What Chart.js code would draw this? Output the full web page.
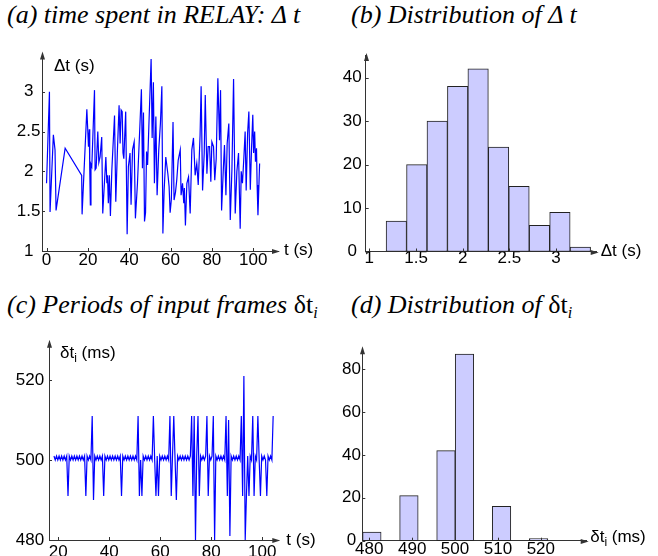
<!DOCTYPE html>
<html lang="en">
<head>
<meta charset="UTF-8">
<title>RELAY timing</title>
<script src="https://cdn.jsdelivr.net/npm/chart.js"></script>
<style>
    body { margin: 0; width: 658px; height: 556px; overflow: hidden; position: relative; background: #fff; }
    canvas { position: absolute; }
    .title {
        position: absolute;
        font-family: "Liberation Serif", "Times New Roman", serif;
        font-style: italic;
        font-size: 26px;
        line-height: 26px;
        white-space: nowrap;
        color: #000;
    }
    .title .sym { font-style: normal; }
    .title sub { font-size: 16px; line-height: 0; vertical-align: -5px; }
</style>
</head>
<body>
    <div class="title" style="left:7px; top:2px">(a) time spent in RELAY: Δ t</div>
    <div class="title" style="left:351px; top:2px">(b) Distribution of Δ t</div>
    <div class="title" style="left:7px; top:292px">(c) Periods of input frames <span class="sym">δt</span><sub>i</sub></div>
    <div class="title" style="left:351px; top:292px">(d) Distribution of <span class="sym">δt</span><sub>i</sub></div>

    <canvas id="chartA" width="330" height="240" style="left:0; top:40px"></canvas>
    <canvas id="chartB" width="328" height="250" style="left:330px; top:30px"></canvas>
    <canvas id="chartC" width="330" height="236" style="left:0; top:320px"></canvas>
    <canvas id="chartD" width="328" height="236" style="left:330px; top:320px"></canvas>

<script>
// (a) time spent in RELAY
const relayTimes = [
    0, 1.4, 1.7, 3.3, 4.1, 4.6, 9.0, 17.0, 17.2, 19.5,
    20.3, 20.7, 20.9, 21.2, 21.5, 21.9, 23.2, 23.5, 24.0, 24.8,
    25.3, 25.9, 26.7, 27.2, 27.8, 28.7, 29.2, 29.5, 29.9, 30.4,
    30.9, 31.6, 32.4, 32.9, 33.5, 34.3, 35.1, 35.6, 36.1, 36.6,
    37.0, 37.4, 38.3, 39.0, 39.6, 40.4, 40.9, 41.6, 42.4, 43.0,
    44.0, 45.0, 45.9, 46.4, 46.9, 47.4, 47.9, 48.4, 48.9, 49.5,
    50.6, 51.1, 51.7, 52.2, 52.9, 53.5, 54.3, 55.1, 55.8, 56.3,
    56.9, 57.7, 58.7, 59.3, 59.8, 60.4, 61.2, 61.7, 62.4, 63.0,
    63.7, 64.7, 65.1, 65.8, 66.4, 66.7, 67.2, 67.9, 68.7, 69.5,
    70.3, 71.1, 71.9, 72.7, 73.4, 74.3, 74.8, 75.5, 76.3, 76.8,
    77.6, 78.2, 78.9, 79.5, 80.0, 80.8, 81.4, 82.1, 82.9, 83.7,
    84.2, 84.7, 85.5, 86.1, 86.8, 87.4, 88.2, 88.9, 89.7, 90.5,
    91.3, 92.1, 92.9, 93.7, 94.2, 94.8, 95.5, 96.1, 96.6, 97.3,
    97.9, 98.6, 99.2, 99.8, 100.2, 100.7, 101.1, 101.6, 101.9, 102.3,
    103.1
];
const relayDelta = [
    1.85, 3.00, 1.49, 2.46, 2.27, 1.51, 2.29, 1.95, 1.46, 2.78,
    2.31, 2.53, 2.04, 1.58, 2.09, 2.06, 3.02, 2.02, 2.04, 2.50,
    2.11, 2.18, 2.43, 1.47, 1.76, 2.18, 1.85, 1.95, 1.60, 1.95,
    1.44, 2.02, 2.44, 2.70, 1.62, 2.27, 2.83, 2.35, 2.77, 2.75,
    2.23, 2.16, 2.75, 1.21, 2.06, 2.23, 1.58, 2.27, 2.37, 1.41,
    1.85, 2.47, 3.03, 2.04, 2.74, 1.37, 1.48, 2.25, 2.08, 2.56,
    3.41, 2.42, 3.12, 1.85, 2.69, 1.70, 2.27, 2.60, 3.07, 1.22,
    1.76, 2.18, 1.97, 1.81, 1.48, 1.65, 2.62, 1.64, 1.74, 1.89,
    2.14, 2.27, 1.70, 1.85, 1.60, 1.79, 1.32, 1.85, 1.93, 1.47,
    2.27, 2.42, 1.95, 2.10, 1.83, 2.46, 3.07, 1.76, 2.23, 2.96,
    1.97, 2.31, 2.31, 1.87, 2.37, 2.31, 1.89, 2.16, 3.17, 2.39,
    3.02, 1.51, 2.00, 2.33, 1.70, 2.35, 2.60, 1.39, 2.02, 3.16,
    1.47, 2.00, 2.23, 1.28, 2.00, 1.85, 2.18, 2.50, 1.76, 2.48,
    2.75, 1.77, 2.29, 2.71, 2.23, 2.50, 2.12, 2.29, 1.83, 1.45,
    2.10
];
const relayTicksX = [0, 20, 40, 60, 80, 100];
const relayTicksY = [1, 1.5, 2, 2.5, 3];

// (b) distribution of delta t
const deltaBinCenters = [1.289, 1.508, 1.727, 1.946, 2.165, 2.384, 2.603, 2.822, 3.041, 3.260];
const deltaBinCounts = [7, 20, 30, 38, 42, 24, 15, 6, 9, 1];
const deltaTicksX = [1, 1.5, 2, 2.5, 3];
const deltaTicksY = [0, 10, 20, 30, 40];

// (c) periods of input frames (ms), first frame at frameStart seconds
const frameStart = 18.3;
const framePeriods = [
    501, 500, 501, 500, 501, 500, 501, 500, 501, 500,
    501, 491, 501, 500, 501, 500, 501, 500, 501, 500,
    501, 500, 501, 500, 501, 491, 501, 500, 501, 500,
    511, 490, 501, 500, 501, 500, 501, 500, 501, 491,
    501, 500, 501, 500, 501, 500, 501, 500, 501, 500,
    501, 500, 501, 491, 501, 500, 501, 500, 501, 500,
    501, 500, 501, 500, 501, 500, 511, 491, 500, 491,
    501, 500, 501, 500, 501, 500, 501, 500, 511, 500,
    491, 501, 491, 501, 500, 501, 500, 501, 500, 501,
    500, 511, 491, 501, 511, 500, 490, 501, 500, 501,
    500, 501, 500, 501, 500, 501, 500, 501, 511, 491,
    511, 480, 501, 511, 491, 501, 500, 501, 500, 501,
    511, 491, 501, 500, 501, 511, 480, 501, 500, 501,
    500, 501, 500, 501, 500, 511, 491, 510, 481, 501,
    500, 501, 500, 501, 500, 501, 500, 511, 491, 521,
    480, 491, 501, 491, 501, 500, 511, 491, 501, 500,
    511, 500, 491, 501, 500, 501, 500, 491, 501, 500,
    501, 500, 511
];
const frameTicksX = [20, 40, 60, 80, 100];
const frameTicksY = [480, 500, 520];

// (d) distribution of frame periods (empty bins left out)
const periodBinCenters = [480.6, 489.24, 497.88, 502.2, 510.84, 519.48];
const periodBinCounts = [4, 21, 42, 87, 16, 1];
const periodTicksX = [480, 490, 500, 510, 520];
const periodTicksY = [0, 20, 40, 60, 80];

const axisColor = '#333';
const lineBlue = '#0000ff';
const barFill = '#ccccff';
const tickFont = { family: '"Liberation Sans", Arial, sans-serif', size: 17 };
const nameFont = '17px "Liberation Sans", Arial, sans-serif';
const subFont = '12px "Liberation Sans", Arial, sans-serif';

// draws label parts like [['δt'], ['i', true], [' (ms)']] (true = subscript)
function drawName(ctx, parts, x, y) {
    parts.forEach(([text, sub]) => {
        ctx.font = sub ? subFont : nameFont;
        ctx.fillText(text, x, sub ? y + 5 : y);
        x += ctx.measureText(text).width;
    });
}

function axisDecor(spec) {
    return {
        id: 'axisDecor',
        afterDraw(chart) {
            const { ctx, chartArea: a, scales: { x, y } } = chart;
            ctx.save();
            ctx.strokeStyle = axisColor;
            ctx.fillStyle = axisColor;
            ctx.lineWidth = 1;
            // short inner tick marks
            ctx.beginPath();
            x.ticks.forEach(t => {
                const px = Math.round(x.getPixelForValue(t.value)) + 0.5;
                ctx.moveTo(px, a.bottom);
                ctx.lineTo(px, a.bottom - 3);
            });
            y.ticks.forEach(t => {
                const py = Math.round(y.getPixelForValue(t.value)) + 0.5;
                ctx.moveTo(a.left, py);
                ctx.lineTo(a.left + 3, py);
            });
            ctx.stroke();
            // arrow heads
            const lx = Math.round(a.left) + 0.5, by = Math.round(a.bottom) + 0.5;
            ctx.beginPath();
            ctx.moveTo(lx, a.top - 2);
            ctx.lineTo(lx - 2.5, a.top + 6);
            ctx.lineTo(lx + 2.5, a.top + 6);
            ctx.closePath();
            ctx.moveTo(a.right + 2, by);
            ctx.lineTo(a.right - 6, by - 2.5);
            ctx.lineTo(a.right - 6, by + 2.5);
            ctx.closePath();
            ctx.fill();
            // axis names
            ctx.fillStyle = '#000';
            ctx.textBaseline = 'middle';
            ctx.textAlign = 'left';
            if (spec.yName) drawName(ctx, spec.yName, a.left + spec.yAt[0], a.top + spec.yAt[1]);
            drawName(ctx, spec.xName, a.right + spec.xAt[0], a.bottom + spec.xAt[1]);
            ctx.restore();
        }
    };
}

function makePanel(id, type, dataset, spec) {
    const ctx = document.getElementById(id).getContext('2d');
    return new Chart(ctx, {
        type,
        data: { datasets: [dataset] },
        options: {
            responsive: false,
            animation: false,
            layout: { padding: { left: 0, top: spec.top, right: spec.right, bottom: 0 } },
            plugins: { legend: { display: false }, tooltip: { enabled: false } },
            scales: {
                x: {
                    type: 'linear',
                    min: spec.xRange[0],
                    max: spec.xRange[1],
                    offset: false,
                    afterBuildTicks: s => { s.ticks = spec.xTicks.map(v => ({ value: v })); },
                    afterFit: s => { s.height = spec.xHeight; },
                    grid: { display: false, drawTicks: false },
                    border: { display: true, color: axisColor, width: 1 },
                    ticks: {
                        color: '#000', font: tickFont, padding: spec.xPad,
                        autoSkip: false, maxRotation: 0, callback: v => String(v)
                    }
                },
                y: {
                    type: 'linear',
                    min: spec.yRange[0],
                    max: spec.yRange[1],
                    afterBuildTicks: s => { s.ticks = spec.yTicks.map(v => ({ value: v })); },
                    afterFit: s => { s.width = spec.yWidth; },
                    grid: { display: false, drawTicks: false },
                    border: { display: true, color: axisColor, width: 1 },
                    ticks: {
                        color: '#000', font: tickFont, padding: spec.yPad,
                        crossAlign: 'center', autoSkip: false, callback: v => String(v)
                    }
                }
            }
        },
        plugins: [axisDecor(spec)]
    });
}

const lineStyle = {
    borderColor: lineBlue,
    borderWidth: 1.2,
    pointRadius: 0,
    tension: 0,
    fill: false
};
const barStyle = {
    backgroundColor: barFill,
    borderColor: '#222',
    borderWidth: 1,
    borderSkipped: false,
    barPercentage: 1,
    categoryPercentage: 1
};

makePanel('chartA', 'line',
    Object.assign({ data: relayTimes.map((t, i) => ({ x: t, y: relayDelta[i] })) }, lineStyle),
    {
        top: 13.5, right: 52, yWidth: 42, xHeight: 29,
        xRange: [-2.2, 112], yRange: [1, 3.48],
        xTicks: relayTicksX, yTicks: relayTicksY, xPad: -1, yPad: 1.5,
        yName: [['Δt (s)']], yAt: [12, 12.5],
        xName: [['t (s)']], xAt: [6, -1]
    });

makePanel('chartB', 'bar',
    Object.assign({ data: deltaBinCenters.map((c, i) => ({ x: c, y: deltaBinCounts[i] })) }, barStyle),
    {
        top: 25, right: 61.3, yWidth: 35.7, xHeight: 28.5,
        xRange: [0.961, 3.435], yRange: [0, 45.2],
        xTicks: deltaTicksX, yTicks: deltaTicksY, xPad: -3, yPad: 4,
        xName: [['Δt (s)']], xAt: [4, 0]
    });

// frame times are the running sum of the periods
let frameTime = frameStart;
const framePoints = framePeriods.map(p => {
    const pt = { x: frameTime, y: p };
    frameTime += p / 1000;
    return pt;
});

makePanel('chartC', 'line',
    Object.assign({ data: framePoints }, lineStyle),
    {
        top: 21.7, right: 51.7, yWidth: 49, xHeight: 16,
        xRange: [16.35, 106.3], yRange: [480, 529.6],
        xTicks: frameTicksX, yTicks: frameTicksY, xPad: 2, yPad: 4.8,
        yName: [['δt'], ['i', true], [' (ms)']], yAt: [11, 11.5],
        xName: [['t (s)']], xAt: [8, 0]
    });

makePanel('chartD', 'bar',
    Object.assign({ data: periodBinCenters.map((c, i) => ({ x: c, y: periodBinCounts[i] })) }, barStyle),
    {
        top: 28.3, right: 71.3, yWidth: 32.3, xHeight: 15.3,
        xRange: [478.37, 530.7], yRange: [0, 89.7],
        xTicks: periodTicksX, yTicks: periodTicksY, xPad: -2, yPad: 1.3,
        xName: [['δt'], ['i', true], [' (ms)']], xAt: [3.5, -3]
    });
</script>
</body>
</html>
